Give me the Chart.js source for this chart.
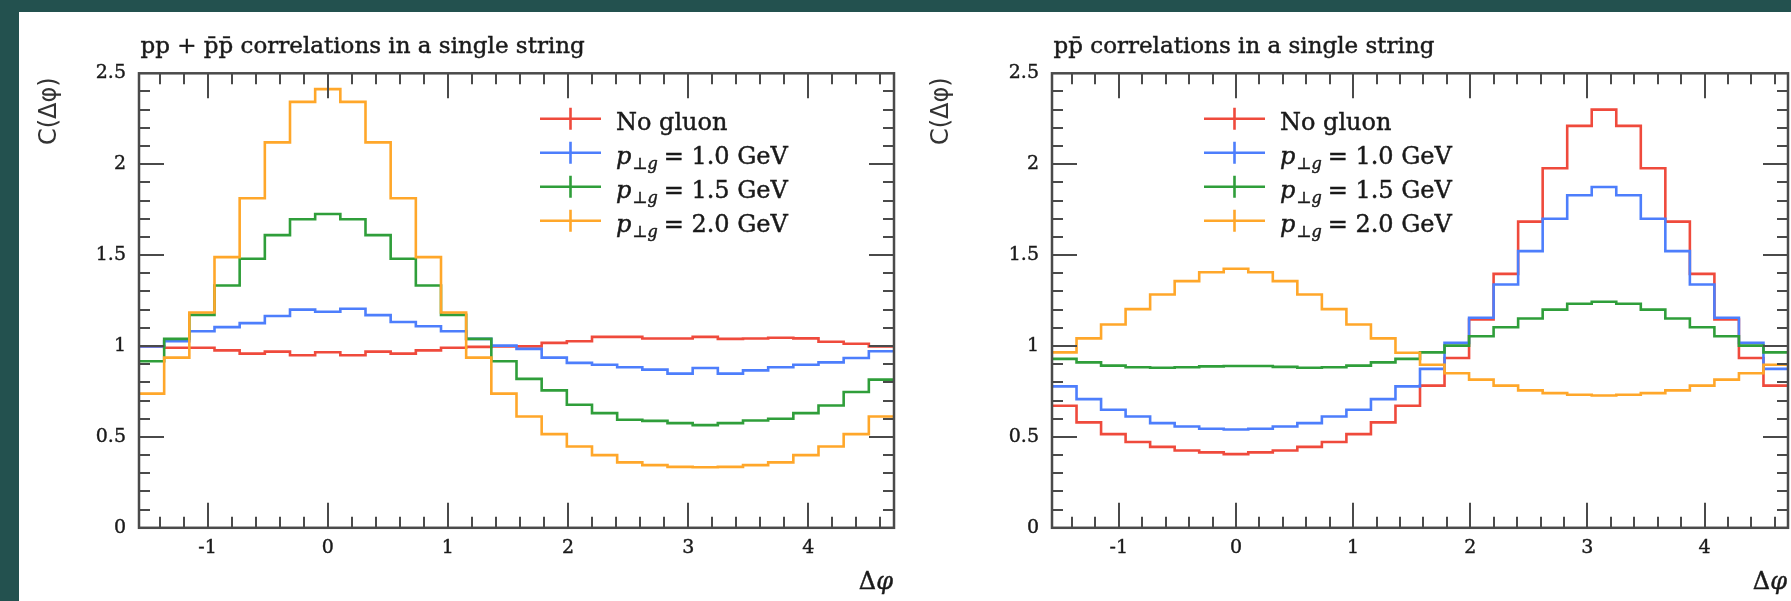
<!DOCTYPE html>
<html>
<head>
<meta charset="utf-8">
<script src="https://cdn.jsdelivr.net/npm/chart.js@4.4.1/dist/chart.umd.min.js"></script>
<style>
  html, body { margin: 0; padding: 0; }
  body { width: 1791px; height: 601px; background: #23514f; overflow: hidden; position: relative; }
  #sheet { position: absolute; left: 19px; top: 12px; width: 1772px; height: 589px; background: #ffffff; }
  #sheet canvas { position: absolute; top: 0; }
  #cSum { left: 0; }
  #cPbar { left: 880px; }
</style>
</head>
<body>
<div id="sheet">
  <canvas id="cSum" width="880" height="589"></canvas>
  <canvas id="cPbar" width="892" height="589"></canvas>
</div>
<script>
// Δφ binning: 30 equal bins over [-π/2, 3π/2]
const PHI_MIN = -Math.PI / 2;
const PHI_MAX = 1.5 * Math.PI;
const N_BINS = 30;
const binEdges = Array.from({ length: N_BINS + 1 }, (_, k) => PHI_MIN + k * (PHI_MAX - PHI_MIN) / N_BINS);

// axis tick labels
const xTickValues = [-1, 0, 1, 2, 3, 4];
const yTickValues = [0, 0.5, 1, 1.5, 2, 2.5];

// series names (transverse momentum of the gluon kink, GeV)
const gluonPt = [null, '1.0', '1.5', '2.0'];

// pp + p̄p̄ correlations, C(Δφ) per bin
const sumNoGluon = [0.998, 0.99, 0.99, 0.976, 0.958, 0.969, 0.949, 0.966, 0.949, 0.969, 0.958, 0.976, 0.99, 0.995, 0.998,
                    0.998, 1.017, 1.026, 1.05, 1.05, 1.041, 1.041, 1.05, 1.039, 1.041, 1.045, 1.042, 1.023, 1.012, 0.998];
const sumPt10 = [0.998, 1.026, 1.081, 1.104, 1.126, 1.165, 1.2, 1.188, 1.205, 1.17, 1.132, 1.109, 1.081, 1.039, 1.002,
                 0.984, 0.936, 0.907, 0.897, 0.883, 0.87, 0.848, 0.879, 0.848, 0.866, 0.883, 0.897, 0.91, 0.934, 0.971];
const sumPt15 = [0.916, 1.039, 1.171, 1.333, 1.48, 1.61, 1.697, 1.726, 1.697, 1.61, 1.48, 1.333, 1.171, 1.039, 0.916,
                 0.819, 0.756, 0.677, 0.631, 0.594, 0.588, 0.576, 0.565, 0.576, 0.59, 0.6, 0.631, 0.673, 0.747, 0.815];
const sumPt20 = [0.738, 0.936, 1.184, 1.489, 1.813, 2.12, 2.343, 2.413, 2.343, 2.12, 1.813, 1.489, 1.184, 0.936, 0.738,
                 0.612, 0.515, 0.447, 0.4, 0.36, 0.345, 0.335, 0.333, 0.335, 0.345, 0.36, 0.4, 0.447, 0.515, 0.612];

// pp̄ correlations, C(Δφ) per bin
const pbarNoGluon = [0.671, 0.58, 0.515, 0.472, 0.445, 0.425, 0.415, 0.405, 0.415, 0.425, 0.445, 0.472, 0.515, 0.58, 0.671,
                     0.782, 0.934, 1.146, 1.397, 1.684, 1.978, 2.211, 2.3, 2.211, 1.978, 1.684, 1.397, 1.146, 0.934, 0.782];
const pbarPt10 = [0.778, 0.708, 0.649, 0.612, 0.576, 0.557, 0.545, 0.541, 0.545, 0.557, 0.576, 0.612, 0.649, 0.708, 0.778,
                  0.874, 1.017, 1.155, 1.338, 1.522, 1.7, 1.829, 1.875, 1.829, 1.7, 1.522, 1.338, 1.155, 1.017, 0.874];
const pbarPt15 = [0.929, 0.91, 0.892, 0.883, 0.88, 0.883, 0.888, 0.89, 0.89, 0.885, 0.88, 0.883, 0.892, 0.91, 0.929,
                  0.965, 1.002, 1.054, 1.103, 1.151, 1.2, 1.232, 1.243, 1.232, 1.2, 1.151, 1.103, 1.054, 1.002, 0.965];
const pbarPt20 = [0.965, 1.042, 1.118, 1.203, 1.283, 1.357, 1.406, 1.425, 1.406, 1.357, 1.283, 1.203, 1.118, 1.042, 0.963,
                  0.897, 0.85, 0.815, 0.782, 0.756, 0.741, 0.732, 0.728, 0.732, 0.741, 0.756, 0.782, 0.815, 0.85, 0.897];

const COLORS = ['#ef4a3c', '#4d7efc', '#2f9e3a', '#ffa72a'];
const FRAME = '#4a4a4a';
const INK = '#1a1a1a';
const SERIF = '"DejaVu Serif", serif';
const SANS = '"DejaVu Sans", sans-serif';
const LINE_W = 2.6;

// histogram outline: one point per lower bin edge plus the closing edge
function histPoints(values) {
  const pts = values.map((v, k) => ({ x: binEdges[k], y: v }));
  pts.push({ x: binEdges[N_BINS], y: values[N_BINS - 1] });
  return pts;
}

// slightly heavier text: fill plus a thin outline in the same ink
function inkText(ctx, s, x, y) {
  ctx.fillText(s, x, y);
  ctx.strokeText(s, x, y);
}

// frame with inward major/minor ticks on all four sides
const frameTicks = {
  id: 'frameTicks',
  afterDatasetsDraw(chart) {
    const { ctx, chartArea: a, scales: { x, y } } = chart;
    ctx.save();
    ctx.strokeStyle = FRAME;
    ctx.lineWidth = 2;
    ctx.beginPath();
    for (let i = -7; i <= 23; i++) {
      const px = Math.round(x.getPixelForValue(i * 0.2));
      const len = i % 5 === 0 ? 25 : 11;
      ctx.moveTo(px, a.bottom); ctx.lineTo(px, a.bottom - len);
      ctx.moveTo(px, a.top); ctx.lineTo(px, a.top + len);
    }
    for (let i = 1; i <= 24; i++) {
      const py = Math.round(y.getPixelForValue(i * 0.1));
      const len = i % 5 === 0 ? 25 : 11;
      ctx.moveTo(a.left, py); ctx.lineTo(a.left + len, py);
      ctx.moveTo(a.right, py); ctx.lineTo(a.right - len, py);
    }
    ctx.stroke();
    ctx.lineWidth = 2.5;
    ctx.strokeRect(a.left, a.top, a.right - a.left, a.bottom - a.top);
    ctx.restore();
  }
};

// title, axis titles and the legend with error-bar style markers
const decorations = {
  id: 'decorations',
  afterDraw(chart, args, opts) {
    const { ctx, chartArea: a } = chart;
    ctx.save();
    ctx.fillStyle = INK;
    ctx.strokeStyle = INK;
    ctx.lineWidth = 0.45;
    ctx.textBaseline = 'alphabetic';

    // title
    ctx.font = '23px ' + SERIF;
    ctx.textAlign = 'left';
    inkText(ctx, opts.title, a.left + 1.5, a.top - 20);

    // y-axis title
    ctx.save();
    ctx.translate(opts.yTitleX, a.top + 4);
    ctx.rotate(-Math.PI / 2);
    ctx.font = '24px ' + SANS;
    ctx.textAlign = 'right';
    ctx.textBaseline = 'middle';
    ctx.fillStyle = '#333';
    ctx.fillText('C(Δφ)', 0, 0);
    ctx.restore();

    // x-axis title, right aligned at the frame
    ctx.textAlign = 'left';
    ctx.font = 'italic 24px ' + SERIF;
    const wPhi = ctx.measureText('φ').width;
    ctx.font = '24px ' + SERIF;
    const wDelta = ctx.measureText('Δ').width;
    const xBase = a.right - wPhi - wDelta - 1;
    inkText(ctx, 'Δ', xBase, a.bottom + 61);
    ctx.font = 'italic 24px ' + SERIF;
    inkText(ctx, 'φ', xBase + wDelta, a.bottom + 61);

    // legend
    const x0 = a.left + opts.legendX;
    chart.data.datasets.forEach((ds, i) => {
      const yc = a.top + 45.5 + i * 34;
      ctx.save();
      ctx.strokeStyle = ds.borderColor;
      ctx.lineWidth = LINE_W;
      ctx.beginPath();
      ctx.moveTo(x0, yc); ctx.lineTo(x0 + 61, yc);
      ctx.moveTo(x0 + 30.5, yc - 11); ctx.lineTo(x0 + 30.5, yc + 11);
      ctx.stroke();
      ctx.restore();
      let tx = x0 + 76;
      const base = yc + 11.5;
      if (gluonPt[i] === null) {
        ctx.font = '24px ' + SERIF;
        inkText(ctx, 'No gluon', tx, base);
      } else {
        ctx.font = 'italic 24px ' + SERIF;
        inkText(ctx, 'p', tx, base);
        tx += ctx.measureText('p').width + 1;
        ctx.font = '16px ' + SERIF;
        inkText(ctx, '⊥', tx, base + 5);
        tx += ctx.measureText('⊥').width;
        ctx.font = 'italic 16px ' + SERIF;
        inkText(ctx, 'g', tx, base + 5);
        tx += ctx.measureText('g').width + 6;
        ctx.font = '24px ' + SERIF;
        inkText(ctx, '= ' + gluonPt[i] + ' GeV', tx, base);
      }
    });
    ctx.restore();
  }
};

function makePanel(canvasId, title, series, yAxisWidth, rightPad, legendX, yTitleX) {
  const names = ['No gluon', 'pT 1.0 GeV', 'pT 1.5 GeV', 'pT 2.0 GeV'];
  return new Chart(document.getElementById(canvasId), {
    type: 'line',
    data: {
      datasets: series.map((vals, i) => ({
        label: names[i],
        data: histPoints(vals),
        borderColor: COLORS[i],
        borderWidth: LINE_W,
        stepped: true,
        pointRadius: 0,
        fill: false,
        order: 3 - i
      }))
    },
    options: {
      responsive: false,
      animation: false,
      devicePixelRatio: 1,
      layout: { padding: { left: 0, top: 61.3, right: rightPad, bottom: 0 } },
      plugins: {
        legend: { display: false },
        tooltip: { enabled: false },
        decorations: { title, legendX, yTitleX }
      },
      scales: {
        x: {
          type: 'linear',
          min: PHI_MIN,
          max: PHI_MAX,
          grid: { display: false, drawTicks: false },
          border: { display: false },
          afterBuildTicks: s => { s.ticks = xTickValues.map(v => ({ value: v })); },
          afterFit: s => { s.height = 73.2; },
          ticks: {
            padding: 9,
            color: INK,
            textStrokeColor: INK,
            textStrokeWidth: 0.4,
            font: { family: SERIF, size: 19 },
            maxRotation: 0,
            callback: v => String(v)
          }
        },
        y: {
          type: 'linear',
          min: 0,
          max: 2.5,
          grid: { display: false, drawTicks: false },
          border: { display: false },
          afterBuildTicks: s => { s.ticks = yTickValues.map(v => ({ value: v })); },
          afterFit: s => { s.width = yAxisWidth; },
          ticks: {
            padding: 13,
            color: INK,
            textStrokeColor: INK,
            textStrokeWidth: 0.4,
            font: { family: SERIF, size: 19 },
            callback: v => String(v)
          }
        }
      }
    },
    plugins: [frameTicks, decorations]
  });
}

makePanel('cSum', 'pp + p\u0304p\u0304 correlations in a single string',
  [sumNoGluon, sumPt10, sumPt15, sumPt20], 120, 5, 401, 30.5);
makePanel('cPbar', 'pp\u0304 correlations in a single string',
  [pbarNoGluon, pbarPt10, pbarPt15, pbarPt20], 153, 3, 152, 42.5);
</script>
</body>
</html>
